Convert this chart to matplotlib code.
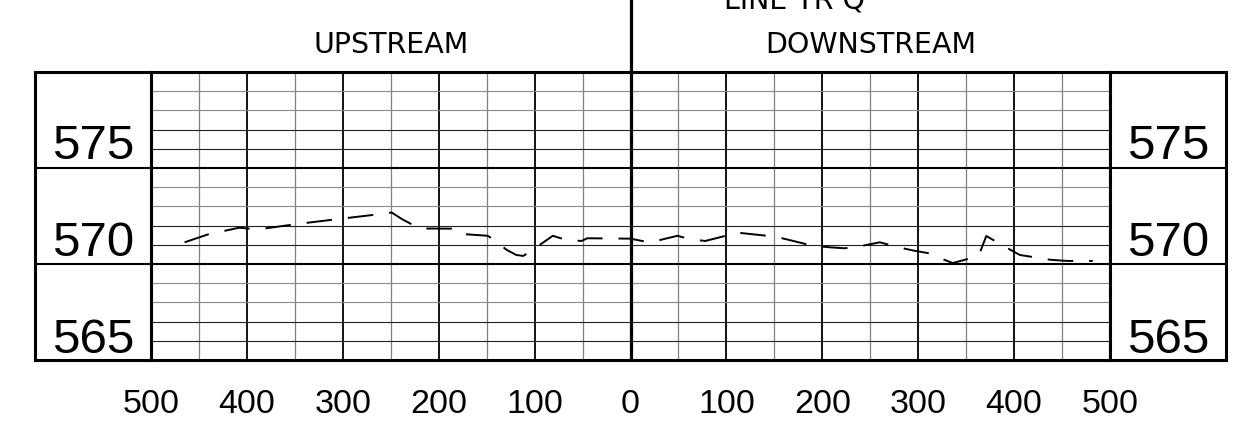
import matplotlib
matplotlib.use("Agg")
import matplotlib.pyplot as plt
from matplotlib.lines import Line2D

# --- Profile data (negative offsets = upstream, positive = downstream) ---
station = [-465, -440, -408, -389, -345, -310, -266, -249, -238, -220,
           -182, -175, -149, -143, -129, -119, -112, -105, -81, -67,
           -51, -45, 0, 20, 49, 62, 78, 112, 148, 155,
           190, 208, 223, 234, 260, 277, 294, 310, 320, 336,
           362, 365, 371, 395, 406, 438, 455, 482]
elevation = [571.13, 571.55, 571.89, 571.80, 572.10, 572.31, 572.57, 572.68, 572.33, 571.85,
             571.84, 571.56, 571.47, 571.29, 570.73, 570.47, 570.42, 570.63, 571.47, 571.25,
             571.20, 571.34, 571.32, 571.12, 571.47, 571.29, 571.20, 571.63, 571.44, 571.38,
             570.95, 570.87, 570.82, 570.87, 571.13, 570.90, 570.71, 570.57, 570.36, 570.05,
             570.40, 570.68, 571.46, 570.77, 570.47, 570.22, 570.16, 570.16]

tick_pos = [-500, -400, -300, -200, -100, 0, 100, 200, 300, 400, 500]
tick_text = ["500", "400", "300", "200", "100", "0", "100", "200", "300", "400", "500"]
elev_labels = [565, 570, 575]
side_titles = ["UPSTREAM", "DOWNSTREAM"]
title_text = "LINE TR Q"

Y_MIN, Y_MAX = 565, 580
NUM_FONT = ["Liberation Sans", "DejaVu Sans"]

plt.rcParams["lines.scale_dashes"] = False
plt.rcParams["font.family"] = ["DejaVu Sans"]

W, H = 1243, 422
fig = plt.figure(figsize=(W / 100, H / 100), dpi=100)

def px_box(x0, x1, y0, y1):
    # figure-fraction rectangle from pixel edges (y measured from top)
    return [x0 / W, 1 - y1 / H, (x1 - x0) / W, (y1 - y0) / H]

ax = fig.add_axes(px_box(151, 1110, 72, 360))
left = fig.add_axes(px_box(35, 151, 72, 360))
right = fig.add_axes(px_box(1110, 1226, 72, 360))

# --- Main grid ---
ax.set_xlim(-500, 500)
ax.set_ylim(Y_MIN, Y_MAX)
for x in range(-450, 500, 50):
    if x == 0:
        continue
    if x % 100 == 0:
        ax.axvline(x, color="black", lw=1.3, zorder=1)
    else:
        ax.axvline(x, color="#808080", lw=0.9, zorder=1)

for y in range(Y_MIN + 1, Y_MAX):
    if y % 5 == 0:
        continue
    shade = "#222222" if y % 5 in (1, 2) else "#888888"
    ax.axhline(y, color=shade, lw=0.8, zorder=1)

# box boundaries between elevation bands
for y in (570, 575):
    for a in (ax, left, right):
        a.axhline(y, color="black", lw=1.5, zorder=2)

ax.axvline(0, color="black", lw=2.3, zorder=3)

# ground profile
ax.plot(station, elevation, color="black", lw=1.4, dashes=(18.4, 11.5),
        dash_capstyle="butt", zorder=4)

ax.set_xticks([])
ax.set_yticks([])
for pos, lab in zip(tick_pos, tick_text):
    ax.text(pos, -0.184, lab, transform=ax.get_xaxis_transform(),
            ha="center", va="baseline", fontsize=24.5, family=NUM_FONT)

# --- Elevation label boxes ---
for a in (left, right):
    a.set_xlim(0, 1)
    a.set_ylim(Y_MIN, Y_MAX)
    a.set_xticks([])
    a.set_yticks([])
    for v, off in zip(elev_labels, (0.38, 0.42, 0.47)):
        a.text(0.5, v + off, str(v), ha="center", va="baseline",
               fontsize=35.5, family=NUM_FONT)

for a in (ax, left, right):
    for sp in a.spines.values():
        sp.set_linewidth(2.2)
        sp.set_color("black")

# --- Header ---
fig.add_artist(Line2D([631 / W, 631 / W], [1 - 72 / H, 1.0],
                      color="black", lw=2.3, transform=fig.transFigure))
fig.text(391 / W, 1 - 53 / H, side_titles[0], ha="center", va="baseline", fontsize=20.5)
fig.text(871 / W, 1 - 53 / H, side_titles[1], ha="center", va="baseline", fontsize=20.5)
fig.text(795 / W, 1 - 8 / H, title_text, ha="center", va="baseline", fontsize=20.5)

fig.savefig("out.png", dpi=100, facecolor="white")
